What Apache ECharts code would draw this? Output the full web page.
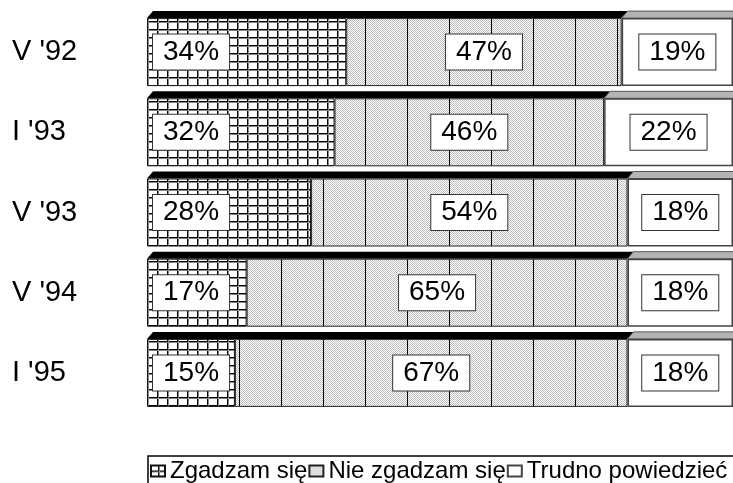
<!DOCTYPE html>
<html>
<head>
<meta charset="utf-8">
<script src="https://cdn.jsdelivr.net/npm/echarts@6/dist/echarts.min.js"></script>
<style>
  html, body { margin: 0; padding: 0; background: #fff; }
  #chart { width: 733px; height: 483px; }
</style>
</head>
<body>
<div id="chart"></div>
<script>
// dane z wykresu
const categories = ["V '92", "I '93", "V '93", "V '94", "I '95"];
const zgadzam = [34, 32, 28, 17, 15];
const nieZgadzam = [47, 46, 54, 65, 67];
const trudno = [19, 22, 18, 18, 18];
const seriesNames = ['Zgadzam się', 'Nie zgadzam się', 'Trudno powiedzieć'];

const FONT = "'Liberation Sans', Arial, sans-serif";
const BAR_W = 68;

// kratka
function gridPattern() {
  const c = document.createElement('canvas');
  c.width = 10; c.height = 8;
  const ctx = c.getContext('2d');
  ctx.fillStyle = '#fff';
  ctx.fillRect(0, 0, 10, 8);
  ctx.fillStyle = '#000';
  ctx.fillRect(7, 0, 1, 8);
  ctx.fillRect(0, 5, 10, 1);
  ctx.fillStyle = '#888';
  ctx.fillRect(8, 0, 1, 8);
  ctx.fillRect(0, 6, 10, 1);
  return c;
}

// kropki + pionowe linie
function dotPattern(withLines) {
  const w = withLines ? 42 : 4;
  const c = document.createElement('canvas');
  c.width = w; c.height = 4;
  const ctx = c.getContext('2d');
  ctx.fillStyle = '#fff';
  ctx.fillRect(0, 0, w, 4);
  ctx.fillStyle = '#bdbdbd';
  for (let x = 0; x < w; x++) {
    for (let y = 0; y < 4; y++) {
      if ((x + y) % 2 === 0) ctx.fillRect(x, y, 1, 1);
    }
  }
  if (withLines) {
    ctx.fillStyle = '#000';
    ctx.fillRect(29, 0, 1, 4);
  }
  return c;
}

const chart = echarts.init(document.getElementById('chart'));

const labelBox = {
  show: true,
  formatter: '{c}%',
  color: '#000',
  fontFamily: FONT,
  fontSize: 28,
  lineHeight: 32,
  backgroundColor: '#fff',
  borderColor: '#333',
  borderWidth: 1,
  padding: [2, 10, 1, 10]
};

const option = {
  animation: false,
  backgroundColor: '#fff',
  grid: { left: 147, width: 589, top: 12, height: 401 },
  xAxis: { type: 'value', min: 0, max: 100, show: false },
  yAxis: {
    type: 'category',
    data: categories,
    inverse: true,
    axisLine: { show: false },
    axisTick: { show: false },
    axisLabel: {
      align: 'left',
      margin: 135,
      color: '#000',
      fontFamily: FONT,
      fontSize: 29
    }
  },
  legend: {
    data: seriesNames,
    left: 148,
    top: 456,
    width: 640,
    orient: 'horizontal',
    itemWidth: 14,
    itemHeight: 11,
    itemGap: 1,
    icon: 'rect',
    borderColor: '#000',
    borderWidth: 1.5,
    padding: [3, 40, 10, 2],
    textStyle: { color: '#000', fontFamily: FONT, fontSize: 24 }
  },
  series: [
    {
      name: seriesNames[0],
      type: 'bar',
      stack: 'all',
      barWidth: BAR_W,
      data: zgadzam,
      itemStyle: { color: { image: gridPattern(), repeat: 'repeat' }, borderColor: '#111', borderWidth: 1 },
      label: Object.assign({}, labelBox, { position: 'insideLeft', distance: 6 })
    },
    {
      name: seriesNames[1],
      type: 'bar',
      stack: 'all',
      barWidth: BAR_W,
      data: nieZgadzam,
      itemStyle: { color: { image: dotPattern(true), repeat: 'repeat' }, borderColor: '#222', borderWidth: 1 },
      label: Object.assign({}, labelBox, { position: 'inside' })
    },
    {
      name: seriesNames[2],
      type: 'bar',
      stack: 'all',
      barWidth: BAR_W,
      data: trudno,
      itemStyle: { color: '#fff', borderColor: '#444', borderWidth: 1.5 },
      label: Object.assign({}, labelBox, { position: 'inside' })
    },
    {
      // górna ścianka 3D
      type: 'custom',
      silent: true,
      clip: false,
      data: categories.map((c, i) => [i, zgadzam[i] + nieZgadzam[i], zgadzam[i] + nieZgadzam[i] + trudno[i]]),
      encode: { x: [1, 2], y: 0 },
      renderItem: function (params, api) {
        const cat = api.value(0);
        const p0 = api.coord([0, cat]);
        const p1 = api.coord([api.value(1), cat]);
        const p2 = api.coord([api.value(2), cat]);
        const top = p0[1] - BAR_W / 2;
        const d = 6, h = 7;
        return {
          type: 'group',
          children: [
            {
              type: 'polygon',
              shape: { points: [[p0[0], top], [p0[0] + d, top - h], [p1[0] + d, top - h], [p1[0], top]] },
              style: { fill: '#000' }
            },
            {
              type: 'polygon',
              shape: { points: [[p1[0], top], [p1[0] + d, top - h], [p2[0] + d, top - h], [p2[0], top]] },
              style: { fill: '#b4b4b4', stroke: '#555', lineWidth: 1 }
            }
          ]
        };
      }
    }
  ]
};

chart.setOption(option);
</script>
</body>
</html>
